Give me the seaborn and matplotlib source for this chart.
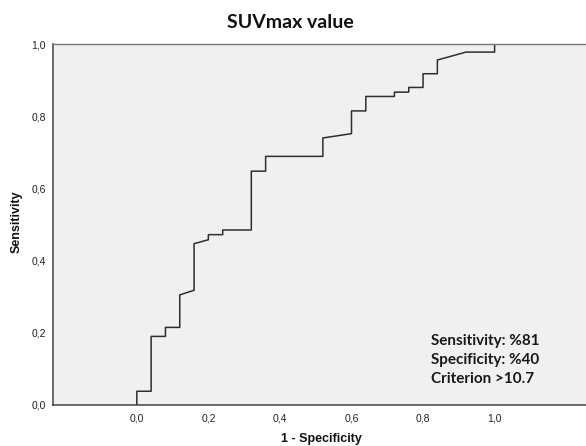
import matplotlib
matplotlib.use("Agg")
from matplotlib import pyplot as plt
import seaborn as sns
import pandas as pd

# ROC curve points (1 - specificity, sensitivity)
fpr = [0.00, 0.00, 0.04, 0.04, 0.08, 0.08, 0.12, 0.12, 0.16, 0.16, 0.20, 0.20,
       0.24, 0.24, 0.32, 0.32, 0.36, 0.36, 0.52, 0.52, 0.60, 0.60, 0.64, 0.64,
       0.72, 0.72, 0.76, 0.76, 0.80, 0.80, 0.84, 0.84, 0.92, 1.00, 1.00]
tpr = [0.000, 0.038, 0.038, 0.190, 0.190, 0.215, 0.215, 0.305, 0.318, 0.447,
       0.458, 0.472, 0.472, 0.485, 0.485, 0.648, 0.648, 0.689, 0.689, 0.740,
       0.752, 0.815, 0.815, 0.855, 0.855, 0.867, 0.867, 0.880, 0.880, 0.918,
       0.918, 0.956, 0.978, 0.978, 1.000]

tick_vals = [0.0, 0.2, 0.4, 0.6, 0.8, 1.0]
tick_labels = ["0,0", "0,2", "0,4", "0,6", "0,8", "1,0"]

title = "SUVmax value"
stats_text = "Sensitivity: %81\nSpecificity: %40\nCriterion >10.7"

df = pd.DataFrame({"fpr": fpr, "tpr": tpr})

sns.set_style("white")
plt.rcParams["font.family"] = ["Liberation Sans", "DejaVu Sans"]

fig = plt.figure(figsize=(5.86, 4.46), dpi=100)
ax = fig.add_axes([0.09, 0.092, 0.925, 0.809])
ax.set_facecolor("#f0f0f0")

sns.lineplot(data=df, x="fpr", y="tpr", sort=False, estimator=None,
             color="#2e2e2e", linewidth=1.1, ax=ax)

ax.set_xlim(-0.235, 1.28)
ax.set_ylim(0, 1.0)
ax.set_xticks(tick_vals)
ax.set_xticklabels(tick_labels)
ax.set_yticks(tick_vals)
ax.set_yticklabels(tick_labels)
ax.tick_params(axis="both", direction="out", length=3.5, width=0.8,
               color="#555555", labelsize=7.5, labelcolor="#222222", pad=1.5)
ax.tick_params(axis="x", pad=3)

for side in ["left", "bottom"]:
    ax.spines[side].set_color("#444444")
    ax.spines[side].set_linewidth(1.1)
ax.spines["top"].set_color("#777777")
ax.spines["top"].set_linewidth(1.0)
ax.spines["right"].set_visible(False)

ax.set_xlabel("")
ax.set_ylabel("")
fig.text(0.548, 1 - 439 / 446, "1 - Specificity", ha="center", va="center",
         fontsize=9, fontweight="bold", color="#111111")
fig.text(17 / 586, 1 - 222 / 446, "Sensitivity", ha="center", va="center",
         rotation=90, fontsize=9, fontweight="bold", color="#111111")

fig.text(290 / 586, 1 - 22 / 446, title, ha="center", va="center",
         fontsize=14, fontweight="bold", family=["Lato", "DejaVu Sans"],
         color="#111111")

fig.text(431 / 586, 1 - 360 / 446, stats_text, ha="left", va="center",
         fontsize=11, fontweight="bold", family=["Lato", "DejaVu Sans"],
         color="#1a1a1a", linespacing=1.45)

fig.savefig("out.png", dpi=100)
